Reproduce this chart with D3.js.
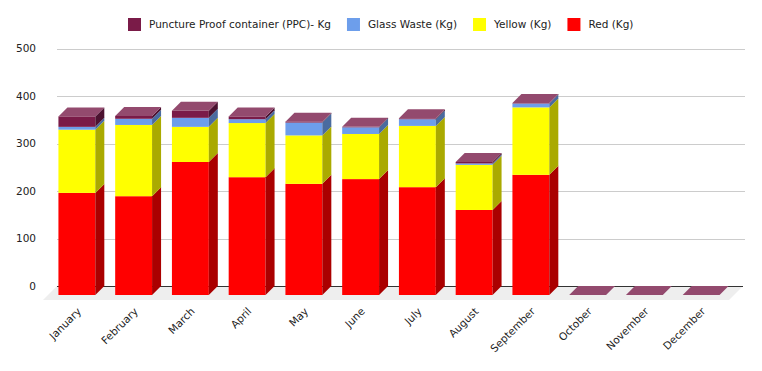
<!DOCTYPE html>
<html>
<head>
<meta charset="utf-8">
<script src="https://cdn.jsdelivr.net/npm/d3@7"></script>
<style>
body { margin: 0; background: #fff; }
text { font-family: "DejaVu Sans", sans-serif; fill: #222; }
</style>
</head>
<body>
<div id="chart"></div>
<script>
// data
var months = ["January", "February", "March", "April", "May", "June", "July", "August", "September", "October", "November", "December"];
var red    = [215, 208, 280, 248, 234, 244, 227, 179, 253, 0, 0, 0];
var yellow = [133, 150, 74, 114, 102, 95, 129, 95, 142, 0, 0, 0];
var glass  = [6, 13, 19, 8, 27, 14, 14, 3, 8, 0, 0, 0];
var ppc    = [22, 6, 15, 6, 2, 1, 2, 3, 1, 0, 0, 0];
var yTicks = [0, 100, 200, 300, 400, 500];

var keys = ["red", "yellow", "glass", "ppc"];
var labels = {
    ppc: "Puncture Proof container (PPC)- Kg",
    glass: "Glass Waste (Kg)",
    yellow: "Yellow (Kg)",
    red: "Red (Kg)"
};
var front = { red: "#ff0000", yellow: "#ffff00", glass: "#6d9eeb", ppc: "#7a1b48" };
var side  = { red: "#aa0000", yellow: "#aaaa00", glass: "#4a6b9f", ppc: "#4c1230" };
var topColor = "#934a6e";

var table = months.map(function (m, i) {
    return { month: m, red: red[i], yellow: yellow[i], glass: glass[i], ppc: ppc[i] };
});

var width = 762, height = 371, depth = 9;

var svg = d3.select("#chart")
    .append("svg")
    .attr("width", width)
    .attr("height", height);

var x = d3.scaleBand()
    .domain(months)
    .range([48.5, 729.5])
    .paddingInner(0.35)
    .paddingOuter(0.175);

var y = d3.scaleLinear()
    .domain([0, 500])
    .range([286, 48.5]);

// gridlines
svg.append("g")
    .selectAll("line")
    .data(yTicks.filter(function (t) { return t > 0; }))
    .enter()
    .append("line")
    .attr("x1", 57)
    .attr("x2", 745)
    .attr("y1", function (d) { return Math.round(y(d)) + 0.5; })
    .attr("y2", function (d) { return Math.round(y(d)) + 0.5; })
    .style("stroke", "#cccccc");

// y labels
svg.append("g")
    .selectAll("text")
    .data(yTicks)
    .enter()
    .append("text")
    .attr("x", 36)
    .attr("y", function (d) { return y(d); })
    .attr("dy", "0.35em")
    .attr("text-anchor", "end")
    .style("font-size", "10.5px")
    .text(function (d) { return d; });

// floor
var x0 = 57, x1 = 743, y0 = y(0);
svg.append("polygon")
    .attr("points", [[x0, y0], [x1, y0], [x1 - 14, y0 + 14], [x0 - 14, y0 + 14]].join(" "))
    .style("fill", "#eeeeee");

svg.append("line")
    .attr("x1", x0)
    .attr("x2", x1)
    .attr("y1", Math.round(y0) + 0.5)
    .attr("y2", Math.round(y0) + 0.5)
    .style("stroke", "#333333");

// stacked 3d bars
var stacked = d3.stack().keys(keys)(table);
var bw = x.bandwidth();

stacked.forEach(function (layer) {
    var g = svg.append("g");
    var segs = layer.filter(function (d) { return d[1] > d[0]; });
    g.selectAll("rect")
        .data(segs)
        .enter()
        .append("rect")
        .attr("x", function (d) { return x(d.data.month); })
        .attr("y", function (d) { return y(d[1]) + depth; })
        .attr("width", bw)
        .attr("height", function (d) { return y(d[0]) - y(d[1]); })
        .style("fill", front[layer.key]);
    g.selectAll("polygon")
        .data(segs)
        .enter()
        .append("polygon")
        .attr("points", function (d) {
            var bx = x(d.data.month) + bw, t = y(d[1]), b = y(d[0]);
            return [[bx, t + depth], [bx + depth, t], [bx + depth, b], [bx, b + depth]].join(" ");
        })
        .style("fill", side[layer.key]);
});

// top faces
var last = stacked[stacked.length - 1];
svg.append("g")
    .selectAll("polygon")
    .data(last)
    .enter()
    .append("polygon")
    .attr("points", function (d) {
        var bx = x(d.data.month), t = y(d[1]);
        return [[bx, t + depth], [bx + depth, t], [bx + bw + depth, t], [bx + bw, t + depth]].join(" ");
    })
    .style("fill", topColor);

// x labels
svg.append("g")
    .selectAll("text")
    .data(months)
    .enter()
    .append("text")
    .attr("transform", function (d) {
        return "translate(" + (x(d) + bw / 2 + 5) + ",312) rotate(-45)";
    })
    .attr("text-anchor", "end")
    .style("font-size", "10.5px")
    .text(function (d) { return d; });

// legend, centred
var legendKeys = ["ppc", "glass", "yellow", "red"];
var legend = svg.append("g");
var items = legend.selectAll("g")
    .data(legendKeys)
    .enter()
    .append("g");
items.append("rect")
    .attr("width", 13)
    .attr("height", 13)
    .attr("y", 18)
    .style("fill", function (d) { return front[d]; });
items.append("text")
    .attr("x", 21)
    .attr("y", 24.5)
    .attr("dy", "0.35em")
    .style("font-size", "10.5px")
    .text(function (d) { return labels[d]; });

var pos = 0;
items.each(function () {
    var w = d3.select(this).select("text").node().getComputedTextLength();
    d3.select(this).attr("transform", "translate(" + pos + ",0)");
    pos += 21 + w + 16;
});
var total = pos - 16;
legend.attr("transform", "translate(" + Math.round(381 - total / 2) + ",0)");
</script>
</body>
</html>
